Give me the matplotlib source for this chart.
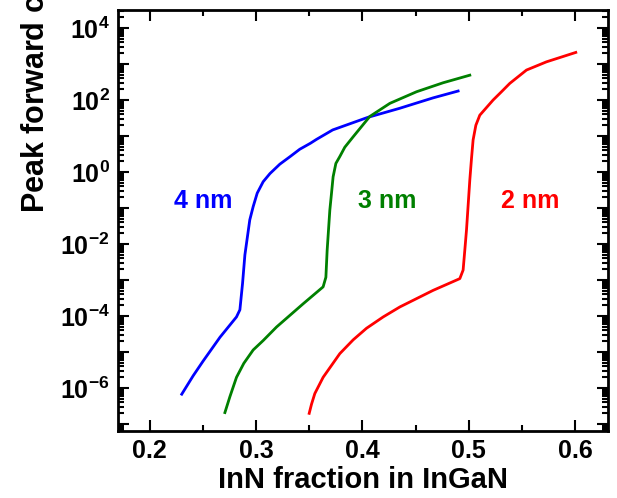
"""Courant de pic en fonction de la fraction d'InN, pour trois épaisseurs de puits."""

import math

import matplotlib

matplotlib.use("Agg")
import matplotlib.pyplot as plt
from matplotlib.ticker import FixedLocator, FuncFormatter, LogLocator, MultipleLocator

# Valeurs
x_4nm = [0.230, 0.2407, 0.250, 0.266, 0.2815, 0.2847, 0.2872, 0.2894, 0.294,
         0.2972, 0.301, 0.3066, 0.313, 0.3223, 0.332, 0.341, 0.351, 0.3568,
         0.372, 0.405, 0.435, 0.4665, 0.490]
y_4nm = [6.8e-7, 2.2e-6, 5.6e-6, 2.6e-5, 9.5e-5, 1.5e-4, 8.1e-4, 5.0e-3, 4.7e-2,
         0.11, 0.26, 0.54, 0.91, 1.66, 2.7, 4.3, 6.3, 8.1,
         14.8, 33, 59, 115, 178]

x_3nm = [0.2706, 0.2753, 0.2815, 0.2884, 0.2972, 0.3066, 0.3192, 0.3442, 0.3630,
         0.3656, 0.3668, 0.3693, 0.3709, 0.3724, 0.375, 0.3787, 0.3834, 0.3912,
         0.4069, 0.4258, 0.4509, 0.4759, 0.501]
y_3nm = [2.1e-7, 5.8e-7, 2.0e-6, 4.9e-6, 1.15e-5, 2.1e-5, 5.0e-5, 2.2e-4, 6.5e-4,
         1.2e-3, 6.8e-3, 8.7e-2, 0.26, 0.74, 1.74, 2.7, 4.9, 9.5,
         35, 81, 170, 302, 490]

x_2nm = [0.3499, 0.3521, 0.3552, 0.363, 0.3787, 0.3913, 0.4038, 0.4195, 0.4352,
         0.4665, 0.4916, 0.4947, 0.4963, 0.4979, 0.501, 0.5026, 0.5041, 0.5067,
         0.5104, 0.5229, 0.5308, 0.5386, 0.5543, 0.5731, 0.6007]
y_2nm = [2.0e-7, 3.6e-7, 7.1e-7, 2.0e-6, 9.1e-6, 2.2e-5, 4.6e-5, 9.5e-5, 1.8e-4,
         5.2e-4, 1.1e-3, 1.9e-3, 6.8e-3, 2.5e-2, 0.6, 2.4, 7.8, 20,
         38, 100, 170, 290, 680, 1150, 2100]

etiquettes = ["4 nm", "3 nm", "2 nm"]
couleurs = ["#0000ff", "#008000", "#ff0000"]
pos_etiquettes = [(0.250, 0.155), (0.423, 0.155), (0.558, 0.155)]

plt.rcParams["font.family"] = "Liberation Sans"
plt.rcParams["font.weight"] = "bold"
plt.rcParams["mathtext.fontset"] = "custom"
plt.rcParams["mathtext.rm"] = "Liberation Sans:bold"
plt.rcParams["mathtext.bf"] = "Liberation Sans:bold"
plt.rcParams["mathtext.it"] = "Liberation Sans:bold"

fig = plt.figure(figsize=(6.17, 4.98), dpi=100)
ax = fig.add_axes([0.1912, 0.1345, 0.7942, 0.8454])

series = [(x_4nm, y_4nm), (x_3nm, y_3nm), (x_2nm, y_2nm)]
for (xs, ys), c in zip(series, couleurs):
    ax.plot(xs, ys, color=c, lw=2.0, solid_joinstyle="round")

for txt, c, (xt, yt) in zip(etiquettes, couleurs, pos_etiquettes):
    ax.text(xt, yt, txt, color=c, fontsize=18, fontweight="bold",
            ha="center", va="center")

ax.set_yscale("log")
ax.set_xlim(0.17, 0.631)
ax.set_ylim(10 ** -7.19, 10 ** 4.5)


def etiquette_y(v, pos):
    # une étiquette toutes les deux décades
    k = round(math.log10(v))
    return r"$10^{%d}$" % k if k % 2 == 0 else ""


# graduations majeures à chaque décade
ax.yaxis.set_major_locator(FixedLocator([10.0 ** k for k in range(-7, 5)]))
ax.yaxis.set_major_formatter(FuncFormatter(etiquette_y))
ax.yaxis.set_minor_locator(LogLocator(base=10, subs=range(2, 10), numticks=30))
ax.xaxis.set_major_locator(MultipleLocator(0.1))
ax.xaxis.set_minor_locator(MultipleLocator(0.05))

ax.tick_params(which="both", direction="in", top=True, right=True, width=1.5)
ax.tick_params(which="major", length=8, labelsize=18, pad=6)
ax.tick_params(which="minor", length=4.5)
for s in ax.spines.values():
    s.set_linewidth(2)

for lab in ax.get_xticklabels() + ax.get_yticklabels():
    lab.set_fontweight("bold")

ax.set_xlabel("InN fraction in InGaN", fontsize=21, fontweight="bold", labelpad=2)
fig.text(35 / 617, 1 - 213 / 498, "Peak forward current density (A/cm$^2$)",
         rotation=90, ha="center", va="bottom", fontsize=22, fontweight="bold")

fig.savefig("out.png", dpi=100)
